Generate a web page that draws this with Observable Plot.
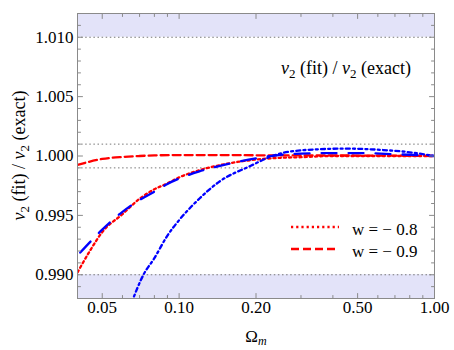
<!DOCTYPE html>
<html><head><meta charset="utf-8">
<script src="https://cdn.jsdelivr.net/npm/d3@7"></script>
<script src="https://cdn.jsdelivr.net/npm/@observablehq/plot@0.6"></script>
<style>
body{margin:0;background:#fff}
#chart{position:relative;width:454px;height:350px}
</style>
</head><body><div id="chart"></div>
<script>
// ---- data ----
const omegaRedDotted = [0.04, 0.045, 0.05, 0.06, 0.07, 0.08, 0.09, 0.10, 0.12, 0.15, 0.20, 0.25, 0.30, 0.40, 0.50, 0.70, 1.00];
const ratioRedDotted = [0.9902, 0.9921, 0.9936, 0.9951, 0.9964, 0.9972, 0.9977, 0.9982, 0.9988, 0.9993, 0.9997, 0.99985, 0.9999, 1.0000, 1.0000, 1.0000, 1.0000];

const omegaRedDashed = [0.04, 0.05, 0.06, 0.07, 0.08, 0.10, 0.15, 0.20, 0.30, 0.50, 0.70, 1.00];
const ratioRedDashed = [0.99925, 0.99975, 0.99992, 1.0000, 1.00005, 1.00008, 1.00008, 1.00006, 1.00005, 1.00004, 1.00003, 1.0000];

const omegaBlueLong = [0.041, 0.045, 0.05, 0.06, 0.07, 0.08, 0.09, 0.10, 0.12, 0.15, 0.20, 0.25, 0.30, 0.40, 0.50, 0.70, 1.00];
const ratioBlueLong = [0.99187, 0.9928, 0.9938, 0.9953, 0.9963, 0.9970, 0.99765, 0.9981, 0.9987, 0.99925, 0.9998, 1.0001, 1.0002, 1.00025, 1.00025, 1.00015, 1.0000];

const omegaBlueDashDot = [0.065, 0.0725, 0.08, 0.09, 0.10, 0.116, 0.145, 0.19, 0.228, 0.257, 0.346, 0.45, 0.632, 0.78, 1.00];
const ratioBlueDashDot = [0.9876, 0.9900, 0.9914, 0.9933, 0.9946, 0.9961, 0.9979, 0.99916, 0.99994, 1.00028, 1.00056, 1.00062, 1.0005, 1.00034, 1.0000];

const xMajorTicks = [0.05, 0.10, 0.20, 0.50, 1.00];
const xMinorTicks = [0.04, 0.06, 0.07, 0.08, 0.09, 0.3, 0.4, 0.6, 0.7, 0.8, 0.9];
const yMajorTicks = [0.990, 0.995, 1.000, 1.005, 1.010];
const yMinorTicks = [0.988, 0.989, 0.991, 0.992, 0.993, 0.994, 0.996, 0.997, 0.998, 0.999, 1.001, 1.002, 1.003, 1.004, 1.006, 1.007, 1.008, 1.009, 1.011, 1.012];
const gridLevels = [0.990, 0.999, 1.001, 1.010];
const bandLow = [0.988, 0.990];
const bandHigh = [1.010, 1.012];
const legendLabels = ["w = \u2212 0.8", "w = \u2212 0.9"];

// ---- build tables ----
const toRows = (xs, ys) => xs.map((x, i) => ({x, y: ys[i]}));
const bands = [{y1: bandLow[0], y2: bandLow[1]}, {y1: bandHigh[0], y2: bandHigh[1]}];

const RED = "#ff0000", BLUE = "#0000ff", GRAY = "#8a8a8a";
const FONT = "\"Liberation Serif\", Tinos, \"Times New Roman\", \"DejaVu Serif\", serif";
const lineOpts = (stroke, dash) => ({x: "x", y: "y", stroke, strokeWidth: 2.3, strokeDasharray: dash, curve: "monotone-x", clip: true});
const DOTTED = "2.2,3", DASHED = "8,4", LONGDASH = "15,12", DASHDOT = "4,3.2,2,3.2";

const tickShape = {draw(context, l) { context.moveTo(0, 0); context.lineTo(0, -l); }};
const ticks = (data, channel, anchor, len) => {
  const rotate = {bottom: 0, top: 180, left: 90, right: -90}[anchor];
  return Plot.vector(data, {[channel]: d => d, frameAnchor: anchor, length: len, rotate, anchor: "start", shape: tickShape, stroke: GRAY, strokeWidth: 1});
};

const plot = Plot.plot({
  width: 454,
  height: 350,
  marginLeft: 77,
  marginRight: 20,
  marginTop: 13,
  marginBottom: 52,
  style: {fontFamily: FONT, fontSize: "17px", color: "#000", background: "#fff"},
  x: {type: "log", domain: [0.04, 1], axis: null},
  y: {domain: [0.988, 1.012], axis: null},
  marks: [
    Plot.rect(bands, {y1: "y1", y2: "y2", fill: "#e3e3f9"}),
    Plot.ruleY(gridLevels, {stroke: "#777", strokeWidth: 1, strokeDasharray: "1.5,2.6"}),
    Plot.line(toRows(omegaRedDotted, ratioRedDotted), lineOpts(RED, DOTTED)),
    Plot.line(toRows(omegaRedDashed, ratioRedDashed), lineOpts(RED, DASHED)),
    Plot.line(toRows(omegaBlueDashDot, ratioBlueDashDot), lineOpts(BLUE, DASHDOT)),
    Plot.line(toRows(omegaBlueLong, ratioBlueLong), lineOpts(BLUE, LONGDASH)),
    Plot.frame({stroke: GRAY}),
    // tick labels
    Plot.text(xMajorTicks, {x: d => d, frameAnchor: "bottom", dy: 14, text: d3.format(".2f"), fontSize: 17, fill: "#000"}),
    Plot.text(yMajorTicks, {y: d => d, frameAnchor: "left", dx: -4, textAnchor: "end", text: d3.format(".3f"), fontSize: 17, fill: "#000"}),
    // inward ticks
    ticks(xMajorTicks, "x", "bottom", 5), ticks(xMinorTicks, "x", "bottom", 3),
    ticks(xMajorTicks, "x", "top", 5), ticks(xMinorTicks, "x", "top", 3),
    ticks(yMajorTicks, "y", "left", 5), ticks(yMinorTicks, "y", "left", 3),
    ticks(yMajorTicks, "y", "right", 5), ticks(yMinorTicks, "y", "right", 3)
  ]
});
document.getElementById("chart").appendChild(plot);

// ---- annotations (text with italic ν and subscripts) ----
const svg = d3.select(plot);
function ratioLabel(t) {
  const parts = [["\u03bd", true], ["2", "sub"], [" (fit) / ", false], ["\u03bd", true], ["2", "sub"], [" (exact)", false]];
  parts.forEach(([s, kind]) => {
    const ts = t.append("tspan").text(s);
    if (kind === true) ts.attr("font-style", "italic");
    if (kind === "sub") ts.attr("font-size", 13).attr("dy", 4);
    if (kind === false) ts.attr("dy", -4);
  });
}
const addText = (x, y, anchor, size = 17) => svg.append("text").attr("x", x).attr("y", y).attr("text-anchor", anchor)
  .attr("font-family", FONT).attr("font-size", size).attr("fill", "#000");
// in-plot title
ratioLabel(addText(346, 74, "middle", 18));
// y axis label
const ylab = svg.append("text").attr("transform", "translate(25,155.5) rotate(-90)").attr("text-anchor", "middle")
  .attr("font-family", FONT).attr("font-size", 18).attr("fill", "#000");
ratioLabel(ylab);
// x axis label
const xlab = addText(256, 342, "middle");
xlab.append("tspan").text("\u03a9");
xlab.append("tspan").text("m").attr("font-style", "italic").attr("font-size", 12).attr("dy", 3);

// legend
const legendDash = [DOTTED, DASHED];
legendLabels.forEach((lab, i) => {
  const y = 227 + i * 22;
  svg.append("line").attr("x1", 291).attr("x2", 339).attr("y1", y).attr("y2", y)
    .attr("stroke", RED).attr("stroke-width", 2.3).attr("stroke-dasharray", legendDash[i]);
  addText(352, y + 8, "start").text(lab);
});
</script>
</body></html>
